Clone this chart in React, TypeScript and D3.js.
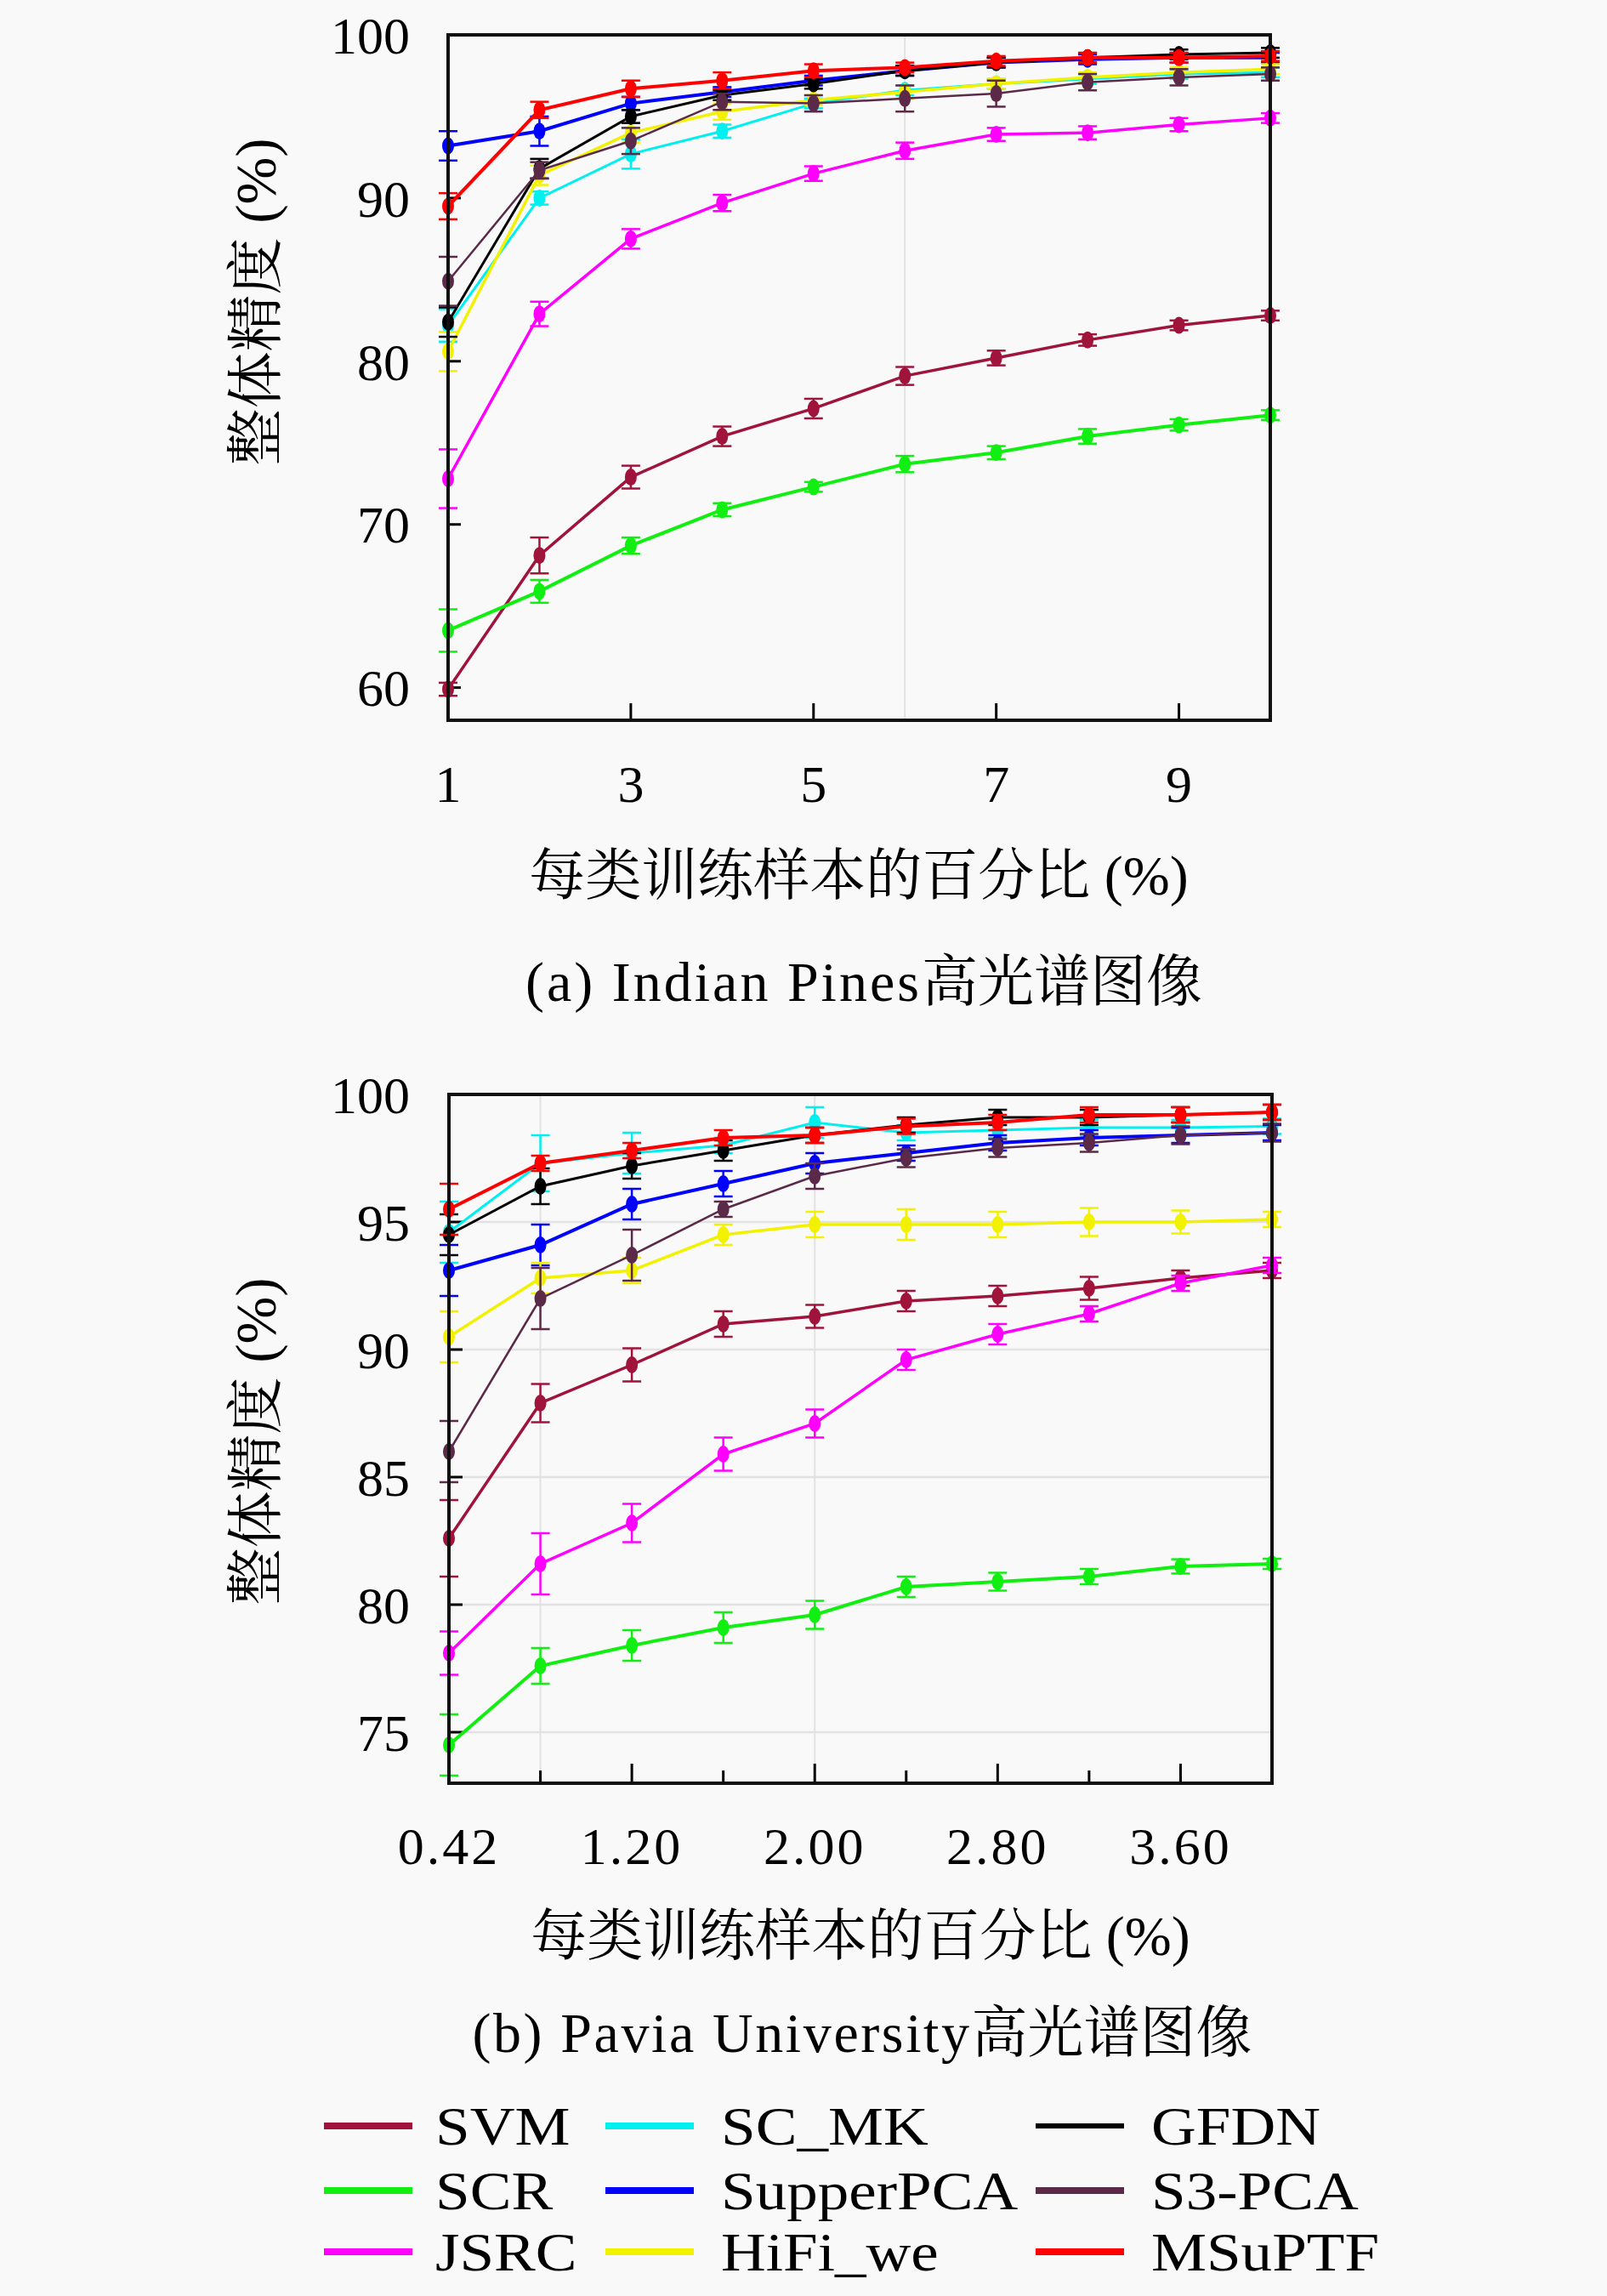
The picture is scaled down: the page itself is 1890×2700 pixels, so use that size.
import * as d3 from "d3";

// Indian Pines, x = percent of training samples per class
const ipX = [1, 2, 3, 4, 5, 6, 7, 8, 9, 10];
const ipTicks = [1, 3, 5, 7, 9];
const ipYTicks = [60, 70, 80, 90, 100];

const ipSVM = [59.9, 68.1, 72.9, 75.4, 77.1, 79.1, 80.2, 81.3, 82.2, 82.8];
const ipSCR = [63.5, 65.9, 68.7, 70.9, 72.3, 73.7, 74.4, 75.4, 76.1, 76.7];
const ipJSRC = [72.8, 82.9, 87.5, 89.7, 91.5, 92.9, 93.9, 94.0, 94.5, 94.9];
const ipSCMK = [82.2, 90.0, 92.7, 94.1, 95.8, 96.6, 97.0, 97.3, 97.6, 97.7];
const ipSupperPCA = [93.2, 94.1, 95.8, 96.5, 97.2, 97.8, 98.3, 98.5, 98.6, 98.6];
const ipHiFi = [80.6, 91.4, 94.0, 95.3, 96.0, 96.5, 97.0, 97.4, 97.7, 97.9];
const ipGFDN = [82.4, 91.8, 95.0, 96.3, 97.0, 97.8, 98.3, 98.6, 98.8, 98.9];
const ipS3PCA = [84.9, 91.7, 93.5, 95.9, 95.8, 96.1, 96.4, 97.1, 97.4, 97.6];
const ipMSuPTF = [89.5, 95.4, 96.7, 97.2, 97.8, 98.0, 98.4, 98.6, 98.6, 98.7];

const ipSVMErr = [0.4, 1.1, 0.7, 0.6, 0.6, 0.55, 0.45, 0.35, 0.3, 0.3];
const ipSCRErr = [1.3, 0.7, 0.5, 0.4, 0.3, 0.5, 0.4, 0.45, 0.35, 0.3];
const ipJSRCErr = [1.8, 0.75, 0.6, 0.5, 0.45, 0.5, 0.4, 0.4, 0.4, 0.3];
const ipSCMKErr = [1.0, 0.4, 0.9, 0.4, 0.3, 0.3, 0.3, 0.3, 0.3, 0.3];
const ipSupperPCAErr = [0.9, 0.9, 0.4, 0.3, 0.3, 0.3, 0.3, 0.3, 0.3, 0.3];
const ipHiFiErr = [1.2, 0.6, 0.6, 0.5, 0.3, 0.4, 0.3, 0.3, 0.3, 0.3];
const ipGFDNErr = [0.9, 0.6, 0.4, 0.3, 0.3, 0.3, 0.3, 0.3, 0.3, 0.3];
const ipS3PCAErr = [1.5, 0.5, 0.8, 0.5, 0.5, 0.8, 0.8, 0.5, 0.5, 0.4];
const ipMSuPTFErr = [0.8, 0.5, 0.5, 0.5, 0.4, 0.3, 0.3, 0.3, 0.3, 0.3];

// Pavia University
const puX = ["0.42", "0.80", "1.20", "1.60", "2.00", "2.40", "2.80", "3.20", "3.60", "4.00"];
const puTicks = ["0.42", "1.20", "2.00", "2.80", "3.60"];
const puYTicks = [75, 80, 85, 90, 95, 100];

const puSVM = [82.6, 87.9, 89.4, 91.0, 91.3, 91.9, 92.1, 92.4, 92.8, 93.1];
const puSCR = [74.5, 77.6, 78.4, 79.1, 79.6, 80.7, 80.9, 81.1, 81.5, 81.6];
const puJSRC = [78.1, 81.6, 83.2, 85.9, 87.1, 89.6, 90.6, 91.4, 92.6, 93.3];
const puSCMK = [94.6, 97.3, 97.7, 98.0, 98.9, 98.5, 98.6, 98.7, 98.7, 98.75];
const puSupperPCA = [93.1, 94.1, 95.7, 96.5, 97.3, 97.7, 98.1, 98.3, 98.4, 98.5];
const puHiFi = [90.5, 92.8, 93.1, 94.5, 94.9, 94.9, 94.9, 95.0, 95.0, 95.1];
const puGFDN = [94.5, 96.4, 97.2, 97.8, 98.4, 98.8, 99.1, 99.1, 99.2, 99.3];
const puS3PCA = [86.0, 92.0, 93.7, 95.5, 96.8, 97.5, 97.9, 98.1, 98.4, 98.5];
const puMSuPTF = [95.5, 97.3, 97.8, 98.3, 98.4, 98.75, 98.9, 99.2, 99.2, 99.3];

const puSVMErr = [1.5, 0.75, 0.65, 0.5, 0.45, 0.4, 0.4, 0.45, 0.3, 0.3];
const puSCRErr = [1.2, 0.7, 0.6, 0.6, 0.55, 0.4, 0.35, 0.3, 0.28, 0.2];
const puJSRCErr = [0.85, 1.2, 0.75, 0.65, 0.55, 0.4, 0.4, 0.3, 0.3, 0.3];
const puSCMKErr = [1.2, 1.1, 0.8, 0.3, 0.6, 0.3, 0.3, 0.3, 0.3, 0.3];
const puSupperPCAErr = [1.0, 0.8, 0.6, 0.5, 0.4, 0.3, 0.3, 0.3, 0.3, 0.3];
const puHiFiErr = [1.0, 0.6, 0.5, 0.4, 0.5, 0.6, 0.5, 0.55, 0.45, 0.3];
const puGFDNErr = [0.8, 0.7, 0.5, 0.4, 0.3, 0.3, 0.3, 0.3, 0.3, 0.3];
const puS3PCAErr = [1.2, 1.2, 1.0, 0.3, 0.5, 0.35, 0.35, 0.35, 0.35, 0.35];
const puMSuPTFErr = [1.0, 0.3, 0.3, 0.3, 0.3, 0.3, 0.3, 0.3, 0.3, 0.3];

const methods = ["SVM", "SCR", "JSRC", "SC_MK", "SupperPCA", "HiFi_we", "GFDN", "S3-PCA", "MSuPTF"];
const colors = ["#a0143c", "#11ee11", "#ff00ff", "#00f0f0", "#0000ff", "#f2f200", "#000000", "#5b2a48", "#ff0000"];
const lineWidths = [3.5, 4, 3.5, 3, 4, 3.5, 3, 2.5, 4];

const ipSeries = [ipSVM, ipSCR, ipJSRC, ipSCMK, ipSupperPCA, ipHiFi, ipGFDN, ipS3PCA, ipMSuPTF];
const ipErrors = [ipSVMErr, ipSCRErr, ipJSRCErr, ipSCMKErr, ipSupperPCAErr, ipHiFiErr, ipGFDNErr, ipS3PCAErr, ipMSuPTFErr];
const puSeries = [puSVM, puSCR, puJSRC, puSCMK, puSupperPCA, puHiFi, puGFDN, puS3PCA, puMSuPTF];
const puErrors = [puSVMErr, puSCRErr, puJSRCErr, puSCMKErr, puSupperPCAErr, puHiFiErr, puGFDNErr, puS3PCAErr, puMSuPTFErr];

const W = 1890;
const H = 2700;
const FONT = "'Liberation Serif', 'Noto Serif CJK SC', 'Noto Sans CJK SC', serif";
const grid = "#e2e2e2";

const Marks = ({ xs, series, errors, x, y }) => (
    <g>
        {series.map((vals, si) => {
            const line = d3
                .line()
                .x((_, i) => x(xs[i]))
                .y((d) => y(d))(vals);
            return (
                <g key={methods[si]}>
                    <path d={line} fill="none" stroke={colors[si]} strokeWidth={lineWidths[si]} />
                    {vals.map((v, i) => {
                        const cx = x(xs[i]);
                        const e = errors[si][i];
                        return (
                            <g key={i} stroke={colors[si]} strokeWidth={2.5}>
                                <line x1={cx} x2={cx} y1={y(v - e)} y2={y(v + e)} />
                                <line x1={cx - 11} x2={cx + 11} y1={y(v - e)} y2={y(v - e)} />
                                <line x1={cx - 11} x2={cx + 11} y1={y(v + e)} y2={y(v + e)} />
                                <ellipse cx={cx} cy={y(v)} rx={7} ry={10} fill={colors[si]} stroke="none" />
                            </g>
                        );
                    })}
                </g>
            );
        })}
    </g>
);

// Latin part is spaced out a little to match the wider original face
const Caption = ({ x, y, latin, cjk, spacing }) => (
    <text x={x} y={y} textAnchor="middle" fontSize={66}>
        <tspan letterSpacing={spacing}>{latin}</tspan>
        <tspan>{cjk}</tspan>
    </text>
);

const YLabel = ({ x, y }) => (
    <text x={x} y={y} transform={`rotate(-90 ${x} ${y})`} dy="0.35em" textAnchor="middle" fontSize={67}>
        整体精度 (%)
    </text>
);

const IndianPines = () => {
    const left = 527, right = 1494, top = 41, bottom = 847;
    const x = d3.scaleLinear().domain([1, 10]).range([left, right]);
    const y = d3.scaleLinear().domain([58, 100]).range([bottom, top]);
    return (
        <g>
            <line x1={x(6)} x2={x(6)} y1={top} y2={bottom} stroke={grid} strokeWidth={2} />
            {ipYTicks.slice(0, -1).map((t) => (
                <line key={t} x1={left} x2={left + 15} y1={y(t)} y2={y(t)} stroke="#000" strokeWidth={3} />
            ))}
            {ipTicks.slice(1).map((t) => (
                <line key={t} x1={x(t)} x2={x(t)} y1={bottom} y2={bottom - 20} stroke="#000" strokeWidth={3} />
            ))}
            <Marks xs={ipX} series={ipSeries} errors={ipErrors} x={x} y={y} />
            <rect x={left} y={top} width={right - left} height={bottom - top} fill="none" stroke="#111" strokeWidth={4} />
            {ipYTicks.map((t) => (
                <text key={t} x={482} y={y(t)} dy="0.35em" textAnchor="end" fontSize={62}>
                    {t}
                </text>
            ))}
            {ipTicks.map((t) => (
                <text key={t} x={x(t)} y={943} textAnchor="middle" fontSize={62}>
                    {t}
                </text>
            ))}
            <YLabel x={301} y={355} />
            <text x={1010} y={1052} textAnchor="middle" fontSize={66}>
                每类训练样本的百分比 (%)
            </text>
            <Caption x={1016} y={1177} latin="(a) Indian Pines" cjk="高光谱图像" spacing={3} />
        </g>
    );
};

const Pavia = () => {
    const left = 528, right = 1496, top = 1287, bottom = 2097;
    const x = d3.scalePoint().domain(puX).range([left, right]);
    const y = d3.scaleLinear().domain([73, 100]).range([bottom, top]);
    return (
        <g>
            {puYTicks.slice(0, -1).map((t) => (
                <line key={t} x1={left} x2={right} y1={y(t)} y2={y(t)} stroke={grid} strokeWidth={2.5} />
            ))}
            {[puX[1], puX[4]].map((t) => (
                <line key={t} x1={x(t)} x2={x(t)} y1={top} y2={bottom} stroke={grid} strokeWidth={2} />
            ))}
            {puYTicks.slice(0, -1).map((t) => (
                <line key={t} x1={left} x2={left + 16} y1={y(t)} y2={y(t)} stroke="#000" strokeWidth={3} />
            ))}
            {puX.slice(1, -1).map((t, i) => (
                <line
                    key={t}
                    x1={x(t)}
                    x2={x(t)}
                    y1={bottom}
                    y2={bottom - (i % 2 === 1 ? 23 : 15)}
                    stroke="#000"
                    strokeWidth={3}
                />
            ))}
            <Marks xs={puX} series={puSeries} errors={puErrors} x={x} y={y} />
            <rect x={left} y={top} width={right - left} height={bottom - top} fill="none" stroke="#111" strokeWidth={4} />
            {puYTicks.map((t) => (
                <text key={t} x={482} y={y(t)} dy="0.35em" textAnchor="end" fontSize={62}>
                    {t}
                </text>
            ))}
            {puTicks.map((t) => (
                <text key={t} x={x(t)} y={2192} textAnchor="middle" fontSize={62} letterSpacing={3}>
                    {t}
                </text>
            ))}
            <YLabel x={301} y={1695} />
            <text x={1012} y={2299} textAnchor="middle" fontSize={66}>
                每类训练样本的百分比 (%)
            </text>
            <Caption x={1014} y={2413} latin="(b) Pavia University" cjk="高光谱图像" spacing={2.6} />
        </g>
    );
};

const Legend = () => {
    const colX = [381, 712, 1218];
    const rowY = [2500, 2576, 2648];
    return (
        <g>
            {methods.map((m, i) => {
                const cx = colX[Math.floor(i / 3)];
                const cy = rowY[i % 3];
                return (
                    <g key={m}>
                        <line x1={cx} x2={cx + 104} y1={cy} y2={cy} stroke={colors[i]} strokeWidth={m === "GFDN" ? 6 : 8} />
                        <g transform={`translate(${cx + (i < 3 ? 131 : 136)},${cy}) scale(1.16,1)`}>
                            <text dy="0.35em" fontSize={63}>
                                {m}
                            </text>
                        </g>
                    </g>
                );
            })}
        </g>
    );
};

export default function App() {
    return (
        <svg
            width={W}
            height={H}
            style={{ position: "absolute", left: 0, top: 0 }}
            fontFamily={FONT}
        >
            <rect width={W} height={H} fill="#f9f9f9" />
            <IndianPines />
            <Pavia />
            <Legend />
        </svg>
    );
}
